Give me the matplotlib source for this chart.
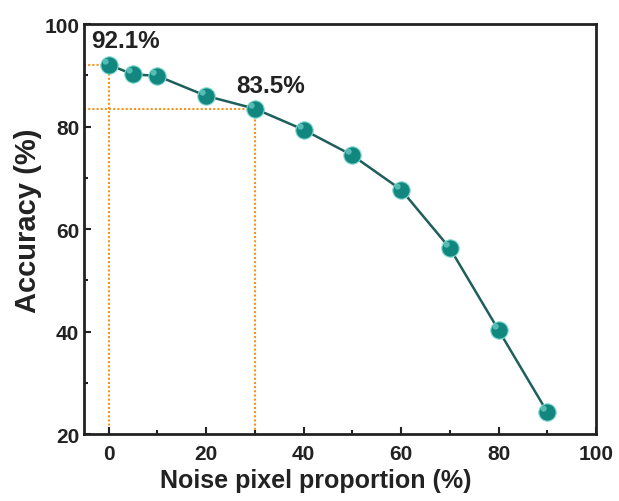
import matplotlib
matplotlib.use("Agg")
import matplotlib.pyplot as plt
from matplotlib.path import Path
from matplotlib.ticker import MultipleLocator

# Data
noise = [0, 5, 10, 20, 30, 40, 50, 60, 70, 80, 90]
accuracy = [92.1, 90.2, 89.9, 86.0, 83.5, 79.4, 74.4, 67.7, 56.3, 40.3, 24.3]
marks = [(0, 92.1, "92.1%"), (30, 83.5, "83.5%")]

plt.rcParams["font.family"] = ["Liberation Sans", "DejaVu Sans"]
plt.rcParams["font.weight"] = "bold"

fig = plt.figure(figsize=(6.19, 5.02), dpi=100)
ax = fig.add_axes([0.136, 0.133, 0.827, 0.817])

x_min, y_min = -5, 20

# Orange dotted guide lines
for x, y, label in marks:
    ax.plot([x_min, x], [y, y], linestyle=(0, (1, 1)), color="#f7931e", lw=1.5, zorder=1)
    ax.plot([x, x], [y_min, y], linestyle=(0, (1, 1)), color="#f7931e", lw=1.5, zorder=1)

ax.plot(noise, accuracy, color="#1e5f5b", lw=1.8, zorder=2)
ax.plot(noise, accuracy, linestyle="none", marker="o", markersize=12.5,
        markerfacecolor="#11877f", markeredgecolor="#7fd8d0", markeredgewidth=0.8, zorder=3)
# off-centre highlight so the markers look like small spheres
glint = Path.circle(center=(-0.28, 0.28), radius=0.22)
ax.plot(noise, accuracy, linestyle="none", marker=glint, markersize=10,
        markerfacecolor="#5cc2b8", markeredgewidth=0, alpha=0.9, zorder=4)

ax.text(-3.6, 96.8, "92.1%", fontsize=17.5, fontweight="bold", va="center", ha="left",
        color="#222222")
ax.text(26.1, 88.0, "83.5%", fontsize=17.5, fontweight="bold", va="center", ha="left",
        color="#222222")

ax.set_xlim(x_min, 100)
ax.set_ylim(y_min, 100)
ax.xaxis.set_major_locator(MultipleLocator(20))
ax.xaxis.set_minor_locator(MultipleLocator(10))
ax.yaxis.set_major_locator(MultipleLocator(20))
ax.yaxis.set_minor_locator(MultipleLocator(10))
ax.tick_params(which="both", direction="in", width=1.5, labelsize=15, colors="#222222")
ax.tick_params(axis="x", which="both", pad=7)
ax.tick_params(which="major", length=5)
ax.tick_params(which="minor", length=3)
for s in ax.spines.values():
    s.set_linewidth(2)
    s.set_color("#222222")

ax.set_xlabel("Noise pixel proportion (%)", fontsize=18, fontweight="bold", color="#222222")
ax.set_ylabel("Accuracy (%)", fontsize=21, fontweight="bold", color="#222222")
ax.xaxis.set_label_coords(0.453, -0.082)
ax.yaxis.set_label_coords(-0.082, 0.524)

fig.savefig("out.png", dpi=100)
